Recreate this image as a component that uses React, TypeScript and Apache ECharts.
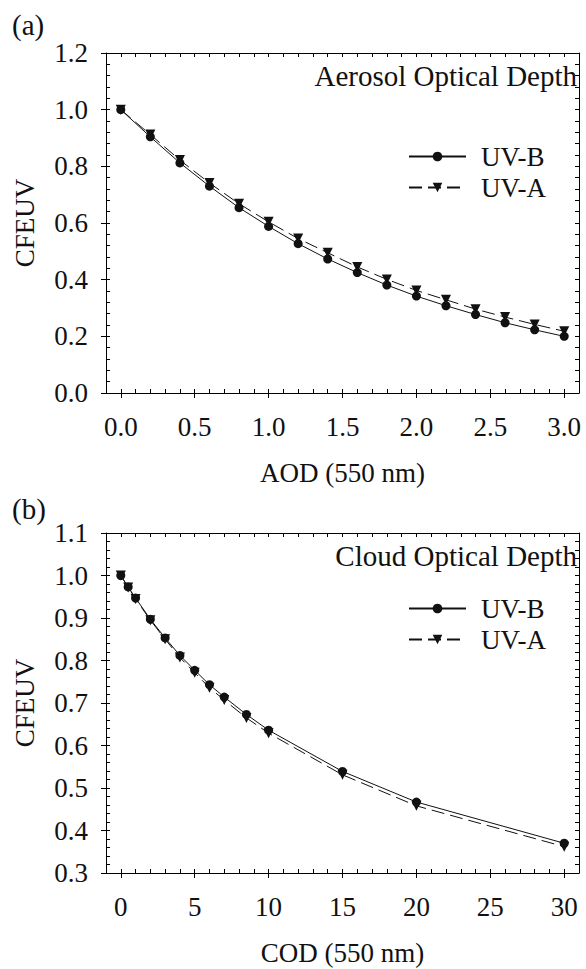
import React, { useEffect, useRef } from "react";
import * as echarts from "echarts";

// ---- Data ----
const aodX = [0, 0.2, 0.4, 0.6, 0.8, 1.0, 1.2, 1.4, 1.6, 1.8, 2.0, 2.2, 2.4, 2.6, 2.8, 3.0];
const aodUVB = [1.0, 0.904, 0.812, 0.730, 0.654, 0.588, 0.527, 0.473, 0.425, 0.381, 0.342, 0.308, 0.277, 0.248, 0.223, 0.200];
const aodUVA = [1.0, 0.912, 0.822, 0.741, 0.668, 0.604, 0.545, 0.495, 0.445, 0.401, 0.362, 0.329, 0.296, 0.268, 0.242, 0.218];

const codX = [0, 0.5, 1, 2, 3, 4, 5, 6, 7, 8.5, 10, 15, 20, 30];
const codUVB = [1.0, 0.973, 0.947, 0.897, 0.853, 0.812, 0.777, 0.743, 0.714, 0.673, 0.636, 0.539, 0.467, 0.370];
const codUVA = [1.0, 0.972, 0.945, 0.895, 0.850, 0.807, 0.771, 0.736, 0.707, 0.665, 0.629, 0.531, 0.458, 0.362];

const aodMajor = [0, 0.5, 1.0, 1.5, 2.0, 2.5, 3.0];
const codMajor = [0, 5, 10, 15, 20, 25, 30];
const cfeuvTopMajor = [0, 0.2, 0.4, 0.6, 0.8, 1.0, 1.2];
const cfeuvBotMajor = [0.3, 0.4, 0.5, 0.6, 0.7, 0.8, 0.9, 1.0, 1.1];

const seriesNames = ["UV-B", "UV-A"];
const panelLabels = ["(a)", "(b)"];
const panelTitles = ["Aerosol Optical Depth", "Cloud Optical Depth"];
const xNames = ["AOD (550 nm)", "COD (550 nm)"];
const yName = "CFEUV";

const FONT = "'Liberation Serif', 'Times New Roman', Times, serif";

function range(a: number, b: number, step: number): number[] {
  const out: number[] = [];
  const n = Math.round((b - a) / step);
  for (let i = 0; i <= n; i++) out.push(Math.round((a + i * step) * 10000) / 10000);
  return out;
}

function buildAxes(
  gridIndex: number,
  xmin: number, xmax: number, xMajor: number[], xMinorStep: number, xFmt: (v: number) => string, xName: string,
  ymin: number, ymax: number, yMajor: number[], yMinorStep: number
) {
  const xMinor = range(xmin, xmax, xMinorStep);
  const yMinor = range(ymin, ymax, yMinorStep);
  const line = { show: true, onZero: false, lineStyle: { color: "#000", width: 1 } };
  const noLine = { show: false, onZero: false };
  const label = { fontSize: 27, fontFamily: FONT, color: "#111" };
  const xAxes = [
    {
      type: "value", gridIndex, min: xmin, max: xmax, position: "bottom",
      axisLine: line,
      axisTick: { show: true, customValues: xMajor, inside: false, length: 5, lineStyle: { color: "#000" } },
      axisLabel: { show: true, customValues: xMajor, formatter: xFmt, margin: 20, ...label },
      splitLine: { show: false },
      name: xName, nameLocation: "middle", nameGap: 66,
      nameTextStyle: { fontSize: 27, fontFamily: FONT, color: "#111" },
    },
    {
      type: "value", gridIndex, min: xmin, max: xmax, position: "bottom",
      axisLine: noLine,
      axisTick: { show: true, customValues: xMinor, inside: true, length: 4, lineStyle: { color: "#000" } },
      axisLabel: { show: false }, splitLine: { show: false },
    },
    {
      type: "value", gridIndex, min: xmin, max: xmax, position: "top",
      axisLine: line,
      axisTick: { show: true, customValues: xMinor, inside: true, length: 4, lineStyle: { color: "#000" } },
      axisLabel: { show: false }, splitLine: { show: false },
    },
  ];
  const yAxes = [
    {
      type: "value", gridIndex, min: ymin, max: ymax, position: "left",
      axisLine: line,
      axisTick: { show: true, customValues: yMajor, inside: false, length: 5, lineStyle: { color: "#000" } },
      axisLabel: { show: true, customValues: yMajor, formatter: (v: number) => v.toFixed(1), margin: 18, ...label },
      splitLine: { show: false },
      name: yName, nameLocation: "middle", nameGap: 68,
      nameTextStyle: { fontSize: 27, fontFamily: FONT, color: "#111" },
    },
    {
      type: "value", gridIndex, min: ymin, max: ymax, position: "left",
      axisLine: noLine,
      axisTick: { show: true, customValues: yMinor, inside: true, length: 4, lineStyle: { color: "#000" } },
      axisLabel: { show: false }, splitLine: { show: false },
    },
    {
      type: "value", gridIndex, min: ymin, max: ymax, position: "right",
      axisLine: line,
      axisTick: { show: true, customValues: yMinor, inside: true, length: 4, lineStyle: { color: "#000" } },
      axisLabel: { show: false }, splitLine: { show: false },
    },
  ];
  return { xAxes, yAxes };
}

function mkSeries(name: string, xs: number[], ys: number[], axisIdx: number, dashed: boolean) {
  return {
    type: "line",
    name,
    xAxisIndex: axisIdx,
    yAxisIndex: axisIdx,
    data: xs.map((x, i) => [x, ys[i]]),
    symbol: dashed ? "triangle" : "circle",
    symbolRotate: dashed ? 180 : 0,
    symbolSize: dashed ? 10 : 9,
    showSymbol: true,
    itemStyle: { color: "#111", borderWidth: 0 },
    lineStyle: { color: "#111", width: 1, type: dashed ? [13, 6] : "solid" },
    z: dashed ? 2 : 3,
  };
}

export default function App() {
  const ref = useRef<HTMLDivElement>(null);
  useEffect(() => {
    document.body.style.margin = "0";
    if (!ref.current) return;
    const chart = echarts.init(ref.current, undefined, { renderer: "svg" });
    const top = buildAxes(0, -0.1, 3.1, aodMajor, 0.1, (v: number) => v.toFixed(1), xNames[0], 0, 1.2, cfeuvTopMajor, 0.04);
    const bot = buildAxes(1, -1, 31, codMajor, 1, (v: number) => String(Math.round(v)), xNames[1], 0.3, 1.1, cfeuvBotMajor, 0.02);
    const legendBase = {
      orient: "vertical",
      data: seriesNames,
      itemWidth: 57,
      itemHeight: 12,
      itemGap: 4,
      selectedMode: false,
      textStyle: { fontSize: 27, fontFamily: FONT, color: "#111", padding: [0, 0, 0, 10] },
    };
    chart.setOption({
      animation: false,
      backgroundColor: "#fff",
      grid: [
        { left: 106, top: 53, width: 473, height: 340 },
        { left: 106, top: 533, width: 473, height: 340 },
      ],
      xAxis: [...top.xAxes, ...bot.xAxes],
      yAxis: [...top.yAxes, ...bot.yAxes],
      legend: [
        { ...legendBase, left: 403, top: 138 },
        { ...legendBase, left: 403, top: 590 },
      ],
      graphic: [
        { type: "text", left: 12, top: 10, style: { text: panelLabels[0], fontSize: 29, fontFamily: FONT, fill: "#111" } },
        { type: "text", left: 12, top: 494, style: { text: panelLabels[1], fontSize: 29, fontFamily: FONT, fill: "#111" } },
        { type: "text", right: 9, top: 61, style: { text: panelTitles[0], fontSize: 29, fontFamily: FONT, fill: "#111" } },
        { type: "text", right: 9, top: 541, style: { text: panelTitles[1], fontSize: 29, fontFamily: FONT, fill: "#111" } },
      ],
      series: [
        mkSeries(seriesNames[0], aodX, aodUVB, 0, false),
        mkSeries(seriesNames[1], aodX, aodUVA, 0, true),
        mkSeries(seriesNames[0], codX, codUVB, 3, false),
        mkSeries(seriesNames[1], codX, codUVA, 3, true),
      ],
    });
    return () => chart.dispose();
  }, []);
  return <div ref={ref} style={{ width: 586, height: 969 }} />;
}
